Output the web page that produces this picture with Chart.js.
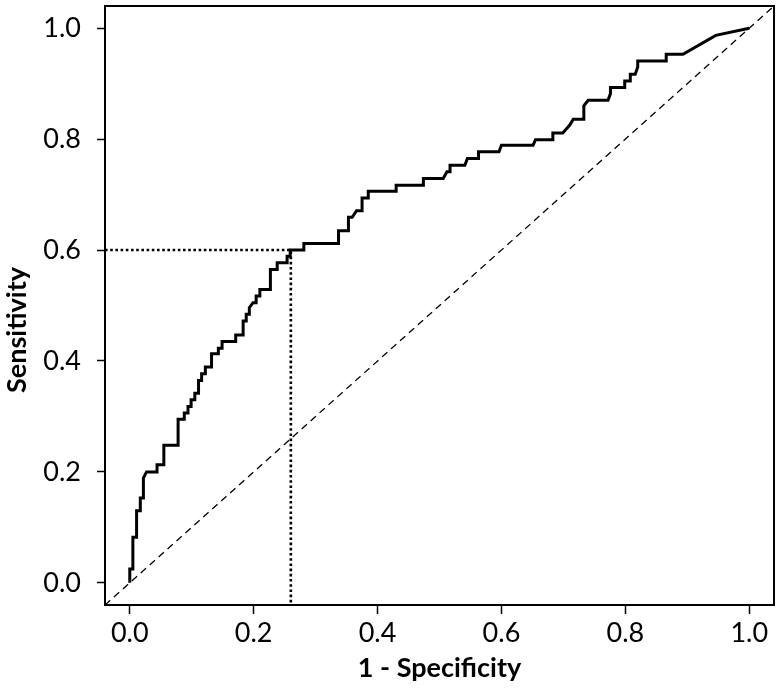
<!DOCTYPE html>
<html>
<head>
<meta charset="utf-8">
<script src="https://cdn.jsdelivr.net/npm/chart.js@4.4.1/dist/chart.umd.min.js"></script>
<style>
html,body{margin:0;padding:0;background:#fff;}
#wrap{width:780px;height:690px;position:relative;}
</style>
</head>
<body>
<div id="wrap"><canvas id="c" width="780" height="690"></canvas></div>
<script>
// ROC curve (1 - specificity, sensitivity)
const fpr = [0,0,0.005,0.005,0.011,0.011,0.017,0.017,0.022,0.022,0.027,0.044,0.044,0.055,0.055,0.078,0.078,0.088,0.088,0.094,0.094,0.099,0.099,0.105,0.105,0.111,0.111,0.116,0.116,0.122,0.122,0.132,0.132,0.143,0.143,0.149,0.149,0.171,0.171,0.183,0.183,0.188,0.188,0.193,0.193,0.199,0.204,0.204,0.21,0.21,0.227,0.227,0.238,0.238,0.254,0.254,0.259,0.259,0.281,0.281,0.337,0.337,0.353,0.353,0.359,0.366,0.375,0.375,0.385,0.385,0.43,0.43,0.474,0.474,0.506,0.512,0.517,0.517,0.541,0.545,0.563,0.563,0.596,0.6,0.651,0.655,0.683,0.683,0.699,0.71,0.716,0.733,0.733,0.74,0.772,0.776,0.776,0.799,0.799,0.808,0.808,0.816,0.82,0.82,0.866,0.866,0.893,0.946,1];
const tpr = [0,0.025,0.025,0.082,0.082,0.13,0.13,0.153,0.153,0.189,0.2,0.2,0.213,0.213,0.248,0.248,0.295,0.295,0.306,0.306,0.318,0.318,0.33,0.33,0.342,0.342,0.365,0.365,0.377,0.377,0.389,0.389,0.413,0.413,0.423,0.423,0.435,0.435,0.447,0.447,0.472,0.472,0.484,0.484,0.496,0.505,0.505,0.517,0.517,0.529,0.529,0.565,0.565,0.577,0.577,0.589,0.589,0.6,0.6,0.612,0.612,0.635,0.635,0.659,0.659,0.671,0.671,0.694,0.694,0.706,0.706,0.717,0.717,0.729,0.729,0.741,0.741,0.753,0.753,0.765,0.765,0.777,0.777,0.789,0.789,0.799,0.799,0.811,0.811,0.825,0.836,0.836,0.86,0.87,0.87,0.882,0.893,0.893,0.905,0.905,0.917,0.917,0.93,0.941,0.941,0.953,0.953,0.987,1];
// reference diagonal (chance line) across the full plot range
const diagX = [-0.04, 1.04];
const diagY = [-0.04, 1.04];
// optimal cut-off point
const cutoffX = [0.26];
const cutoffY = [0.6];
const axisMin = -0.04, axisMax = 1.04;
const tickVals = [0, 0.2, 0.4, 0.6, 0.8, 1.0];
const xTitle = '1 - Specificity';
const yTitle = 'Sensitivity';

const FONT = "Lato, 'Open Sans', 'DejaVu Sans', sans-serif";

const rocPts = fpr.map((x, i) => ({x: x, y: tpr[i]}));
const diagPts = diagX.map((x, i) => ({x: x, y: diagY[i]}));
const cutPts = [
  {x: axisMin, y: cutoffY[0]},
  {x: cutoffX[0], y: cutoffY[0]},
  {x: cutoffX[0], y: axisMin}
];

const boxPlugin = {
  id: 'box',
  afterDraw(chart) {
    const {ctx, chartArea: a} = chart;
    ctx.save();
    ctx.strokeStyle = '#000';
    ctx.lineWidth = 2;
    ctx.strokeRect(a.left, a.top, a.right - a.left, a.bottom - a.top);
    // y axis title
    ctx.translate(17, 330);
    ctx.rotate(-Math.PI / 2);
    ctx.font = "bold 27px " + FONT;
    ctx.fillStyle = '#000';
    ctx.textAlign = 'center';
    ctx.textBaseline = 'middle';
    ctx.fillText(yTitle, 0, 0);
    ctx.restore();
  }
};

new Chart(document.getElementById('c'), {
  type: 'scatter',
  data: {
    datasets: [
      {data: rocPts, showLine: true, borderColor: '#000', borderWidth: 3, pointRadius: 0, tension: 0, fill: false, borderJoinStyle: 'miter'},
      {data: cutPts, showLine: true, borderColor: '#000', borderWidth: 2.6, borderDash: [2.6, 2.6], pointRadius: 0, tension: 0, fill: false},
      {data: diagPts, showLine: true, borderColor: '#000', borderWidth: 1.3, borderDash: [7, 5], pointRadius: 0, tension: 0, fill: false}
    ]
  },
  options: {
    responsive: false,
    animation: false,
    devicePixelRatio: 1,
    layout: {padding: {top: 6, right: 6, left: 0, bottom: 0}},
    plugins: {legend: {display: false}, tooltip: {enabled: false}},
    scales: {
      x: {
        type: 'linear', min: axisMin, max: axisMax,
        afterBuildTicks: s => { s.ticks = tickVals.map(v => ({value: v})); },
        afterFit: s => { s.height = 85; s.paddingLeft = 0; s.paddingRight = 0; },
        grid: {display: true, drawOnChartArea: false, drawTicks: true, tickLength: 9, tickWidth: 1.5, tickColor: '#000'},
        border: {display: false},
        ticks: {color: '#000', padding: 3, font: {family: FONT, size: 27}, callback: v => v.toFixed(1), maxRotation: 0, autoSkip: false},
        title: {display: true, text: xTitle, color: '#000', font: {family: FONT, size: 27, weight: 'bold'}, padding: {top: 0, bottom: 6}}
      },
      y: {
        type: 'linear', min: axisMin, max: axisMax,
        afterBuildTicks: s => { s.ticks = tickVals.map(v => ({value: v})); },
        afterFit: s => { s.width = 105; s.paddingTop = 0; s.paddingBottom = 0; },
        grid: {display: true, drawOnChartArea: false, drawTicks: true, tickLength: 8, tickWidth: 1.5, tickColor: '#000'},
        border: {display: false},
        ticks: {color: '#000', padding: 16, font: {family: FONT, size: 27}, callback: v => v.toFixed(1), autoSkip: false},
        title: {display: false, text: yTitle}
      }
    }
  },
  plugins: [boxPlugin]
});
</script>
</body>
</html>
